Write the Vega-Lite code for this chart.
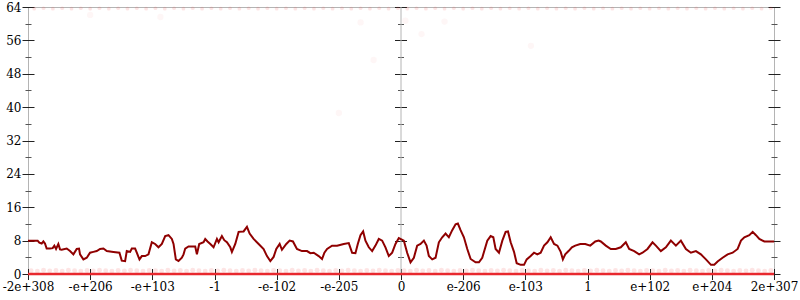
{
  "$schema": "https://vega.github.io/schema/vega-lite/v6.json",
  "width": 746,
  "height": 267,
  "autosize": "none",
  "padding": {"left": 28, "top": 7, "right": 26, "bottom": 26},
  "background": "white",
  "config": {
    "view": {"stroke": "#b4b4b4", "strokeWidth": 1},
    "axis": {"grid": false, "domain": false, "title": null, "labelFont": "DejaVu Serif", "labelFontSize": 12, "labelColor": "#000000", "tickColor": "#222222", "tickWidth": 1}
  },
  "datasets": {
    "series": [
      {"x":-6.0,"y":8.0},{"x":-5.845,"y":8.0},{"x":-5.818,"y":7.5},{"x":-5.78,"y":7.3},{"x":-5.753,"y":7.8},{"x":-5.727,"y":7.3},{"x":-5.7,"y":6.1},{"x":-5.646,"y":6.1},{"x":-5.603,"y":6.2},{"x":-5.576,"y":6.8},{"x":-5.549,"y":6.0},{"x":-5.512,"y":7.2},{"x":-5.485,"y":5.9},{"x":-5.458,"y":5.8},{"x":-5.377,"y":6.1},{"x":-5.324,"y":5.5},{"x":-5.27,"y":4.7},{"x":-5.216,"y":6.0},{"x":-5.179,"y":6.1},{"x":-5.163,"y":4.7},{"x":-5.109,"y":3.5},{"x":-5.055,"y":3.9},{"x":-5.002,"y":5.1},{"x":-4.948,"y":5.3},{"x":-4.894,"y":5.5},{"x":-4.841,"y":6.0},{"x":-4.787,"y":6.1},{"x":-4.733,"y":5.5},{"x":-4.626,"y":5.3},{"x":-4.529,"y":5.1},{"x":-4.492,"y":3.2},{"x":-4.438,"y":3.1},{"x":-4.411,"y":5.5},{"x":-4.357,"y":5.3},{"x":-4.33,"y":6.1},{"x":-4.277,"y":6.1},{"x":-4.25,"y":5.1},{"x":-4.207,"y":3.5},{"x":-4.169,"y":4.3},{"x":-4.116,"y":4.3},{"x":-4.062,"y":4.7},{"x":-4.008,"y":7.6},{"x":-3.955,"y":7.2},{"x":-3.901,"y":6.4},{"x":-3.847,"y":7.2},{"x":-3.793,"y":9.1},{"x":-3.74,"y":9.3},{"x":-3.686,"y":8.4},{"x":-3.659,"y":7.2},{"x":-3.622,"y":3.5},{"x":-3.579,"y":3.1},{"x":-3.525,"y":3.9},{"x":-3.498,"y":4.7},{"x":-3.471,"y":6.1},{"x":-3.418,"y":6.6},{"x":-3.31,"y":6.6},{"x":-3.283,"y":4.7},{"x":-3.246,"y":7.2},
      {"x":-3.176,"y":7.6},{"x":-3.149,"y":8.4},{"x":-3.112,"y":7.8},{"x":-3.067,"y":7.2},{"x":-3.015,"y":6.4},{"x":-2.961,"y":8.4},{"x":-2.934,"y":7.6},{"x":-2.881,"y":9.1},{"x":-2.843,"y":8.1},{"x":-2.8,"y":7.6},{"x":-2.746,"y":6.4},{"x":-2.72,"y":5.3},{"x":-2.666,"y":7.2},{"x":-2.612,"y":10.1},{"x":-2.532,"y":10.2},{"x":-2.478,"y":11.3},{"x":-2.435,"y":9.7},{"x":-2.371,"y":8.4},{"x":-2.29,"y":7.2},{"x":-2.21,"y":6.0},{"x":-2.156,"y":4.3},{"x":-2.102,"y":3.1},{"x":-2.049,"y":4.1},{"x":-2.006,"y":6.0},{"x":-1.952,"y":7.2},{"x":-1.915,"y":5.8},{"x":-1.845,"y":7.2},{"x":-1.791,"y":8.0},{"x":-1.738,"y":7.8},{"x":-1.674,"y":6.0},{"x":-1.594,"y":5.5},{"x":-1.511,"y":5.5},{"x":-1.458,"y":5.0},{"x":-1.404,"y":5.1},{"x":-1.324,"y":4.3},{"x":-1.27,"y":3.6},{"x":-1.232,"y":5.1},{"x":-1.189,"y":6.0},{"x":-1.109,"y":6.8},{"x":-1.028,"y":6.8},{"x":-0.921,"y":7.2},{"x":-0.84,"y":7.4},{"x":-0.786,"y":5.1},{"x":-0.733,"y":5.0},{"x":-0.695,"y":7.2},{"x":-0.652,"y":9.3},{"x":-0.609,"y":10.2},{"x":-0.572,"y":8.0},{"x":-0.518,"y":6.4},{"x":-0.464,"y":5.5},{"x":-0.411,"y":6.8},{"x":-0.357,"y":8.4},{"x":-0.303,"y":8.0},{"x":-0.25,"y":6.4},{"x":-0.196,"y":4.3},{"x":-0.142,"y":5.1},{"x":-0.089,"y":7.2},{"x":-0.035,"y":8.6},
      {"x":0.046,"y":8.0},{"x":0.099,"y":5.1},{"x":0.153,"y":2.8},{"x":0.207,"y":3.9},{"x":0.26,"y":6.8},{"x":0.314,"y":7.2},{"x":0.368,"y":8.0},{"x":0.411,"y":6.8},{"x":0.448,"y":4.3},{"x":0.502,"y":3.5},{"x":0.556,"y":3.9},{"x":0.609,"y":7.6},{"x":0.663,"y":8.8},{"x":0.717,"y":9.7},{"x":0.77,"y":8.8},{"x":0.824,"y":10.5},{"x":0.878,"y":11.9},{"x":0.915,"y":12.1},{"x":0.958,"y":10.5},{"x":1.012,"y":8.8},{"x":1.066,"y":6.0},{"x":1.12,"y":3.6},{"x":1.2,"y":2.8},{"x":1.254,"y":2.8},{"x":1.307,"y":3.9},{"x":1.388,"y":8.0},{"x":1.442,"y":9.1},{"x":1.485,"y":8.8},{"x":1.522,"y":6.0},{"x":1.576,"y":5.1},{"x":1.63,"y":8.0},{"x":1.683,"y":10.1},{"x":1.721,"y":10.2},{"x":1.764,"y":7.6},{"x":1.818,"y":5.3},{"x":1.861,"y":2.6},{"x":1.925,"y":2.2},{"x":1.979,"y":2.2},{"x":2.022,"y":3.5},{"x":2.086,"y":4.3},{"x":2.14,"y":5.1},{"x":2.193,"y":4.7},{"x":2.247,"y":5.1},{"x":2.301,"y":6.8},{"x":2.355,"y":7.6},{"x":2.408,"y":8.8},{"x":2.462,"y":7.2},{"x":2.516,"y":6.8},{"x":2.569,"y":5.3},{"x":2.604,"y":3.5},{"x":2.642,"y":4.7},{"x":2.695,"y":5.5},{"x":2.749,"y":6.4},{"x":2.803,"y":6.8},{"x":2.883,"y":7.2},{"x":2.964,"y":7.2},{"x":3.044,"y":6.8},{"x":3.125,"y":7.8},{"x":3.179,"y":8.0},
      {"x":3.214,"y":7.8},{"x":3.294,"y":6.8},{"x":3.375,"y":6.0},{"x":3.455,"y":6.0},{"x":3.536,"y":6.4},{"x":3.616,"y":7.6},{"x":3.67,"y":6.0},{"x":3.751,"y":5.5},{"x":3.831,"y":4.7},{"x":3.885,"y":5.1},{"x":3.965,"y":6.0},{"x":4.046,"y":7.6},{"x":4.1,"y":6.8},{"x":4.18,"y":5.5},{"x":4.261,"y":6.4},{"x":4.341,"y":8.0},{"x":4.422,"y":6.8},{"x":4.502,"y":8.0},{"x":4.583,"y":6.0},{"x":4.663,"y":5.1},{"x":4.744,"y":5.5},{"x":4.824,"y":4.7},{"x":4.905,"y":3.5},{"x":4.986,"y":2.2},{"x":5.039,"y":2.2},{"x":5.093,"y":3.0},{"x":5.173,"y":3.9},{"x":5.254,"y":4.7},{"x":5.335,"y":5.1},{"x":5.415,"y":6.0},{"x":5.469,"y":8.0},{"x":5.523,"y":8.8},{"x":5.603,"y":9.3},{"x":5.657,"y":10.1},{"x":5.71,"y":9.3},{"x":5.764,"y":8.4},{"x":5.845,"y":7.8},{"x":6.0,"y":7.8}
    ],
    "zero": [{"x":-6,"y":0},{"x":6,"y":0}],
    "center": [{"x":0,"y":0,"y2":64}],
    "low": [
      {"x":-5.95,"y":0.8},{"x":-5.85,"y":0.7},{"x":-5.75,"y":0.9},{"x":-5.65,"y":0.75},{"x":-5.55,"y":0.85},{"x":-5.45,"y":0.7},{"x":-5.35,"y":0.9},{"x":-5.25,"y":0.8},{"x":-5.15,"y":0.7},{"x":-5.05,"y":0.85},
      {"x":-4.95,"y":0.75},{"x":-4.85,"y":0.9},{"x":-4.75,"y":0.8},{"x":-4.65,"y":0.7},{"x":-4.55,"y":0.85},{"x":-4.45,"y":0.75},{"x":-4.35,"y":0.9},{"x":-4.25,"y":0.8},{"x":-4.15,"y":0.7},{"x":-4.05,"y":0.85},
      {"x":-3.95,"y":0.8},{"x":-3.85,"y":0.7},{"x":-3.75,"y":0.9},{"x":-3.65,"y":0.75},{"x":-3.55,"y":0.85},{"x":-3.45,"y":0.7},{"x":-3.35,"y":0.9},{"x":-3.25,"y":0.8},{"x":-3.15,"y":0.7},{"x":-3.05,"y":0.85},
      {"x":-2.95,"y":0.75},{"x":-2.85,"y":0.9},{"x":-2.75,"y":0.8},{"x":-2.65,"y":0.7},{"x":-2.55,"y":0.85},{"x":-2.45,"y":0.75},{"x":-2.35,"y":0.9},{"x":-2.25,"y":0.8},{"x":-2.15,"y":0.7},{"x":-2.05,"y":0.85},
      {"x":-1.95,"y":0.8},{"x":-1.85,"y":0.7},{"x":-1.75,"y":0.9},{"x":-1.65,"y":0.75},{"x":-1.55,"y":0.85},{"x":-1.45,"y":0.7},{"x":-1.35,"y":0.9},{"x":-1.25,"y":0.8},{"x":-1.15,"y":0.7},{"x":-1.05,"y":0.85},
      {"x":-0.95,"y":0.75},{"x":-0.85,"y":0.9},{"x":-0.75,"y":0.8},{"x":-0.65,"y":0.7},{"x":-0.55,"y":0.85},{"x":-0.45,"y":0.75},{"x":-0.35,"y":0.9},{"x":-0.25,"y":0.8},{"x":-0.15,"y":0.7},{"x":-0.05,"y":0.85},
      {"x":0.05,"y":0.8},{"x":0.15,"y":0.7},{"x":0.25,"y":0.9},{"x":0.35,"y":0.75},{"x":0.45,"y":0.85},{"x":0.55,"y":0.7},{"x":0.65,"y":0.9},{"x":0.75,"y":0.8},{"x":0.85,"y":0.7},{"x":0.95,"y":0.85},
      {"x":1.05,"y":0.75},{"x":1.15,"y":0.9},{"x":1.25,"y":0.8},{"x":1.35,"y":0.7},{"x":1.45,"y":0.85},{"x":1.55,"y":0.75},{"x":1.65,"y":0.9},{"x":1.75,"y":0.8},{"x":1.85,"y":0.7},{"x":1.95,"y":0.85},
      {"x":2.05,"y":0.8},{"x":2.15,"y":0.7},{"x":2.25,"y":0.9},{"x":2.35,"y":0.75},{"x":2.45,"y":0.85},{"x":2.55,"y":0.7},{"x":2.65,"y":0.9},{"x":2.75,"y":0.8},{"x":2.85,"y":0.7},{"x":2.95,"y":0.85},
      {"x":3.05,"y":0.75},{"x":3.15,"y":0.9},{"x":3.25,"y":0.8},{"x":3.35,"y":0.7},{"x":3.45,"y":0.85},{"x":3.55,"y":0.75},{"x":3.65,"y":0.9},{"x":3.75,"y":0.8},{"x":3.85,"y":0.7},{"x":3.95,"y":0.85},
      {"x":4.05,"y":0.8},{"x":4.15,"y":0.7},{"x":4.25,"y":0.9},{"x":4.35,"y":0.75},{"x":4.45,"y":0.85},{"x":4.55,"y":0.7},{"x":4.65,"y":0.9},{"x":4.75,"y":0.8},{"x":4.85,"y":0.7},{"x":4.95,"y":0.85},
      {"x":5.05,"y":0.75},{"x":5.15,"y":0.9},{"x":5.25,"y":0.8},{"x":5.35,"y":0.7},{"x":5.45,"y":0.85},{"x":5.55,"y":0.75},{"x":5.65,"y":0.9},{"x":5.75,"y":0.8},{"x":5.85,"y":0.7},{"x":5.95,"y":0.85}
    ],
    "high": [
      {"x":-5.9,"y":63.6},{"x":-5.75,"y":63.7},{"x":-5.6,"y":63.6},{"x":-5.45,"y":63.7},{"x":-5.3,"y":63.6},{"x":-5.15,"y":63.7},{"x":-5.0,"y":63.6},{"x":-4.85,"y":63.7},{"x":-4.7,"y":63.6},{"x":-4.55,"y":63.7},
      {"x":-4.4,"y":63.6},{"x":-4.25,"y":63.7},{"x":-4.1,"y":63.6},{"x":-3.95,"y":63.7},{"x":-3.8,"y":63.6},{"x":-3.65,"y":63.7},{"x":-3.5,"y":63.6},{"x":-3.35,"y":63.7},{"x":-3.2,"y":63.6},{"x":-3.05,"y":63.7},
      {"x":-2.9,"y":63.6},{"x":-2.75,"y":63.7},{"x":-2.6,"y":63.6},{"x":-2.45,"y":63.7},{"x":-2.3,"y":63.6},{"x":-2.15,"y":63.7},{"x":-2.0,"y":63.6},{"x":-1.85,"y":63.7},{"x":-1.7,"y":63.6},{"x":-1.55,"y":63.7},
      {"x":-1.4,"y":63.6},{"x":-1.25,"y":63.7},{"x":-1.1,"y":63.6},{"x":-0.95,"y":63.7},{"x":-0.8,"y":63.6},{"x":-0.65,"y":63.7},{"x":-0.5,"y":63.6},{"x":-0.35,"y":63.7},{"x":-0.2,"y":63.6},{"x":-0.05,"y":63.7},
      {"x":0.1,"y":63.6},{"x":0.25,"y":63.7},{"x":0.4,"y":63.6},{"x":0.55,"y":63.7},{"x":0.7,"y":63.6},{"x":0.85,"y":63.7},{"x":1.0,"y":63.6},{"x":1.15,"y":63.7},{"x":1.3,"y":63.6},{"x":1.45,"y":63.7},
      {"x":1.6,"y":63.6},{"x":1.75,"y":63.7},{"x":1.9,"y":63.6},{"x":2.05,"y":63.7},{"x":2.2,"y":63.6},{"x":2.35,"y":63.7},{"x":2.5,"y":63.6},{"x":2.65,"y":63.7},{"x":2.8,"y":63.6},{"x":2.95,"y":63.7},
      {"x":3.1,"y":63.6},{"x":3.25,"y":63.7},{"x":3.4,"y":63.6},{"x":3.55,"y":63.7},{"x":3.7,"y":63.6},{"x":3.85,"y":63.7},{"x":4.0,"y":63.6},{"x":4.15,"y":63.7},{"x":4.3,"y":63.6},{"x":4.45,"y":63.7},
      {"x":4.6,"y":63.6},{"x":4.75,"y":63.7},{"x":4.9,"y":63.6},{"x":5.05,"y":63.7},{"x":5.2,"y":63.6},{"x":5.35,"y":63.7},{"x":5.5,"y":63.6},{"x":5.65,"y":63.7},{"x":5.8,"y":63.6},{"x":5.95,"y":63.7}
    ],
    "odd": [
      {"x":-5.0,"y":62.1},{"x":-3.87,"y":61.6},{"x":-0.65,"y":60.3},{"x":0.07,"y":60.7},{"x":0.33,"y":57.5},{"x":0.7,"y":60.5},{"x":-0.44,"y":51.3},{"x":-1.0,"y":38.6},{"x":2.09,"y":54.7}
    ]
  },
  "encoding": {
    "x": {"field": "x", "type": "quantitative", "scale": {"domain": [-6, 6], "nice": false, "zero": false}, "axis": {"values": [-6,-5,-4,-3,-2,-1,0,1,2,3,4,5,6], "labelExpr": "['-2e+308','-e+206','-e+103','-1','-e-102','-e-205','0','e-206','e-103','1','e+102','e+204','2e+307'][datum.value + 6]", "tickSize": 11, "offset": -5.5, "labelPadding": 2, "labelFlush": false}}
  },
  "layer": [
    {
      "data": {"name": "center"},
      "mark": {"type": "rule", "color": "#b4b4b4", "strokeWidth": 1},
      "encoding": {
        "y": {"field": "y", "type": "quantitative", "scale": {"domain": [0, 64], "nice": false}, "axis": {"orient": "right", "values": [4,12,20,28,36,44,52,60], "labels": false, "tickSize": 6, "offset": -3, "tickColor": "#555555"}},
        "y2": {"field": "y2"}
      }
    },
    {
      "data": {"name": "high"},
      "mark": {"type": "circle", "color": "#f04848", "opacity": 0.15, "size": 14},
      "encoding": {
        "y": {"field": "y", "type": "quantitative", "axis": {"orient": "left", "values": [0,8,16,24,32,40,48,56,64], "labels": false, "tickSize": 12, "offset": -378.5}}
      }
    },
    {
      "data": {"name": "odd"},
      "mark": {"type": "circle", "color": "#f04848", "opacity": 0.05, "size": 40},
      "encoding": {
        "y": {"field": "y", "type": "quantitative", "axis": {"orient": "left", "values": [4,12,20,28,36,44,52,60], "labels": false, "tickSize": 6, "offset": -375.5, "tickColor": "#555555"}}
      }
    },
    {
      "data": {"name": "low"},
      "mark": {"type": "circle", "color": "#f04040", "opacity": 0.14, "size": 24},
      "encoding": {
        "y": {"field": "y", "type": "quantitative", "axis": {"orient": "left", "values": [4,12,20,28,36,44,52,60], "labels": false, "tickSize": 6, "offset": -3, "tickColor": "#555555"}}
      }
    },
    {
      "data": {"name": "zero"},
      "mark": {"type": "line", "color": "#e8282e", "strokeWidth": 2.5},
      "encoding": {
        "y": {"field": "y", "type": "quantitative", "axis": {"orient": "left", "values": [0,8,16,24,32,40,48,56,64], "tickSize": 12, "offset": -6, "labelPadding": 1}}
      }
    },
    {
      "data": {"name": "series"},
      "mark": {"type": "line", "color": "#8f0000", "strokeWidth": 2},
      "encoding": {
        "y": {"field": "y", "type": "quantitative", "axis": {"orient": "right", "values": [0,8,16,24,32,40,48,56,64], "labels": false, "tickSize": 12, "offset": -6}}
      }
    }
  ],
  "resolve": {"axis": {"y": "independent"}}
}
